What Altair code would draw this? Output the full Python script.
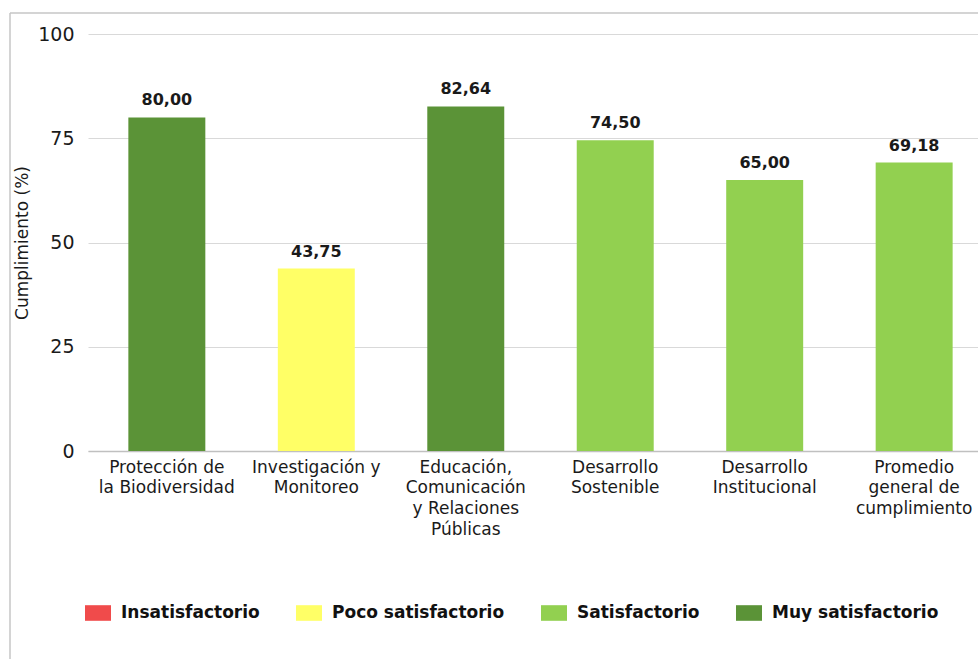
import altair as alt
import pandas as pd

categories = [
    "Protección de\nla Biodiversidad",
    "Investigación y\nMonitoreo",
    "Educación,\nComunicación\ny Relaciones\nPúblicas",
    "Desarrollo\nSostenible",
    "Desarrollo\nInstitucional",
    "Promedio\ngeneral de\ncumplimiento",
]
values = [80.00, 43.75, 82.64, 74.50, 65.00, 69.18]
ratings = [
    "Muy satisfactorio",
    "Poco satisfactorio",
    "Muy satisfactorio",
    "Satisfactorio",
    "Satisfactorio",
    "Satisfactorio",
]
legend_levels = ["Insatisfactorio", "Poco satisfactorio", "Satisfactorio", "Muy satisfactorio"]
legend_colors = ["#f04b4b", "#ffff66", "#92d050", "#5b9337"]
y_ticks = [0, 25, 50, 75, 100]

df = pd.DataFrame({"cat": categories, "val": values, "rating": ratings})
df["label"] = [f"{v:.2f}".replace(".", ",") for v in values]

FONT = "DejaVu Sans"
TXT = "#1a1a1a"

x_enc = alt.X(
    "cat:N",
    sort=None,
    scale=alt.Scale(range=[0, 905], paddingInner=0.485, paddingOuter=0.27),
    axis=alt.Axis(
        title=None,
        labelExpr="split(datum.label, '\\n')",
        labelAngle=0,
        labelFontSize=17,
        labelLineHeight=20.8,
        labelPadding=8,
        labelBaseline="top",
        labelColor=TXT,
        labelFont=FONT,
        labelLimit=0,
        ticks=False,
        domainColor="#c0c0c0",
        domainWidth=1.5,
        grid=False,
    ),
)
y_enc = alt.Y(
    "val:Q",
    scale=alt.Scale(domain=[0, 100]),
    axis=alt.Axis(
        values=y_ticks,
        title="Cumplimiento (%)",
        grid=True,
        gridColor="#d9d9d9",
        gridWidth=1,
        domain=False,
        ticks=False,
        labelPadding=14,
        labelFontSize=19,
        labelColor=TXT,
        labelFont=FONT,
        titleFont=FONT,
        titleFontSize=17,
        titleFontWeight="normal",
        titleColor=TXT,
        titleX=-66,
        titleY=208.5,
        titleAngle=270,
        titleAlign="center",
        titleBaseline="middle",
    ),
)

bars = alt.Chart(df).mark_bar().encode(
    x=x_enc,
    y=y_enc,
    color=alt.Color(
        "rating:N",
        scale=alt.Scale(domain=legend_levels, range=legend_colors),
        legend=alt.Legend(
            title=None,
            orient="none",
            legendX=-3,
            legendY=566,
            direction="horizontal",
            symbolType="M-1,-0.6H1V0.6H-1Z",
            symbolSize=676,
            symbolStrokeWidth=0,
            symbolOpacity=1,
            labelFontSize=17,
            labelFontWeight="bold",
            labelFont=FONT,
            labelColor="#111111",
            labelOffset=10,
            labelLimit=0,
            columnPadding=36,
            padding=0,
        ),
    ),
)

text = alt.Chart(df).mark_text(
    dy=-12, baseline="alphabetic", fontSize=16, fontWeight="bold", font=FONT, color=TXT
).encode(x=alt.X("cat:N", sort=None), y="val:Q", text="label:N")

frame = alt.Data(values=[{"k": 1}])
border_top = alt.Chart(frame).mark_rule(color="#c6c6c6", strokeWidth=1.5).encode(
    x=alt.value(-78), x2=alt.value(1000), y=alt.value(-21)
)
border_left = alt.Chart(frame).mark_rule(color="#c6c6c6", strokeWidth=1.5).encode(
    x=alt.value(-78), y=alt.value(-21), y2=alt.value(700)
)

chart = (
    alt.layer(border_top, border_left, bars, text)
    .properties(
        width=890,
        height=417,
        padding={"left": 88, "top": 34, "right": 0, "bottom": 208},
        autosize=alt.AutoSizeParams(type="none"),
        background="white",
    )
    .configure_view(stroke=None)
)

chart.save("out.html", embed_options={"renderer": "svg", "actions": False})
